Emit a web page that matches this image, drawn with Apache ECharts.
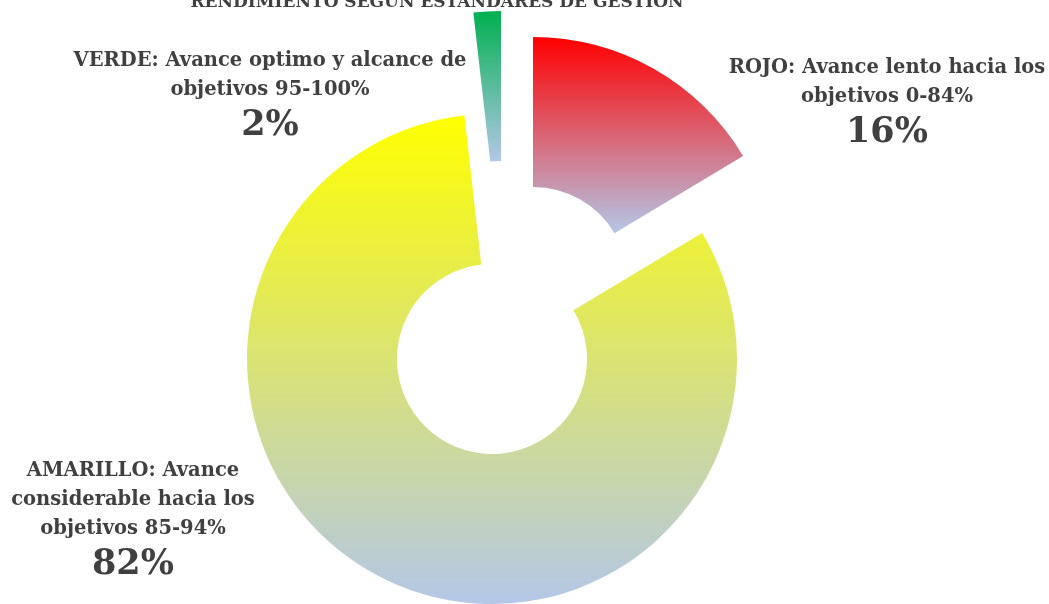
<!DOCTYPE html>
<html>
<head>
<meta charset="utf-8">
<style>
  html, body { margin: 0; padding: 0; background: #fff; }
  #chart { width: 1049px; height: 604px; }
</style>
<script src="https://cdn.jsdelivr.net/npm/echarts@6/dist/echarts.min.js"></script>
</head>
<body>
<div id="chart"></div>
<script>
// datos
const categories = [
  'ROJO: Avance lento hacia los\nobjetivos 0-84%',
  'AMARILLO: Avance\nconsiderable hacia los\nobjetivos 85-94%',
  'VERDE: Avance optimo y alcance de\nobjetivos 95-100%'
];
const values = [16.4, 81.8, 1.8];
const titleText = 'RENDIMIENTO SEGÚN ESTÁNDARES DE GESTIÓN';

// estilos
const topColors = ['#FF0000', '#FFFF00', '#00B050'];
const bottomColor = '#B4C7E7';
const centers = [[533, 282], [492, 359], [501, 256]]; // porciones separadas
const labelPos = [[887, 53], [133, 456], [270, 46]];
const fontFamily = '"DejaVu Serif", serif';
const textColor = '#404040';

const chart = echarts.init(document.getElementById('chart'));

const gradient = (c) => ({
  type: 'linear', x: 0, y: 0, x2: 0, y2: 1,
  colorStops: [{ offset: 0, color: c }, { offset: 1, color: bottomColor }]
});

// una serie por porción, para poder desplazar cada una
const series = categories.map((_, k) => ({
  type: 'pie',
  center: centers[k],
  radius: [95, 245],
  startAngle: 90,
  clockwise: true,
  silent: true,
  animation: false,
  avoidLabelOverlap: false,
  percentPrecision: 0,
  data: values.map((v, i) => ({
    name: categories[i],
    value: v,
    itemStyle: { color: i === k ? gradient(topColors[i]) : 'rgba(0,0,0,0)', borderWidth: 0 },
    label: { show: i === k }
  })),
  label: {
    formatter: (p) => p.name.split('\n').map(l => '{n|' + l + '}').join('\n') + '\n{p|' + p.percent + '%}',
    rich: {
      n: { fontFamily, fontSize: 19.5, fontWeight: 'bold', color: textColor, lineHeight: 29, align: 'center' },
      p: { fontFamily, fontSize: 35, fontWeight: 'bold', color: textColor, lineHeight: 44, align: 'center' }
    }
  },
  labelLine: { show: false },
  labelLayout: (p) => p.dataIndex === k
    ? { x: labelPos[k][0], y: labelPos[k][1], align: 'center', verticalAlign: 'top' }
    : {}
}));

chart.setOption({
  backgroundColor: '#fff',
  title: {
    text: titleText,
    left: 437,
    top: -6,
    padding: 0,
    textAlign: 'center',
    textStyle: { fontFamily, fontSize: 17, fontWeight: 'bold', color: textColor }
  },
  series
});
</script>
</body>
</html>
